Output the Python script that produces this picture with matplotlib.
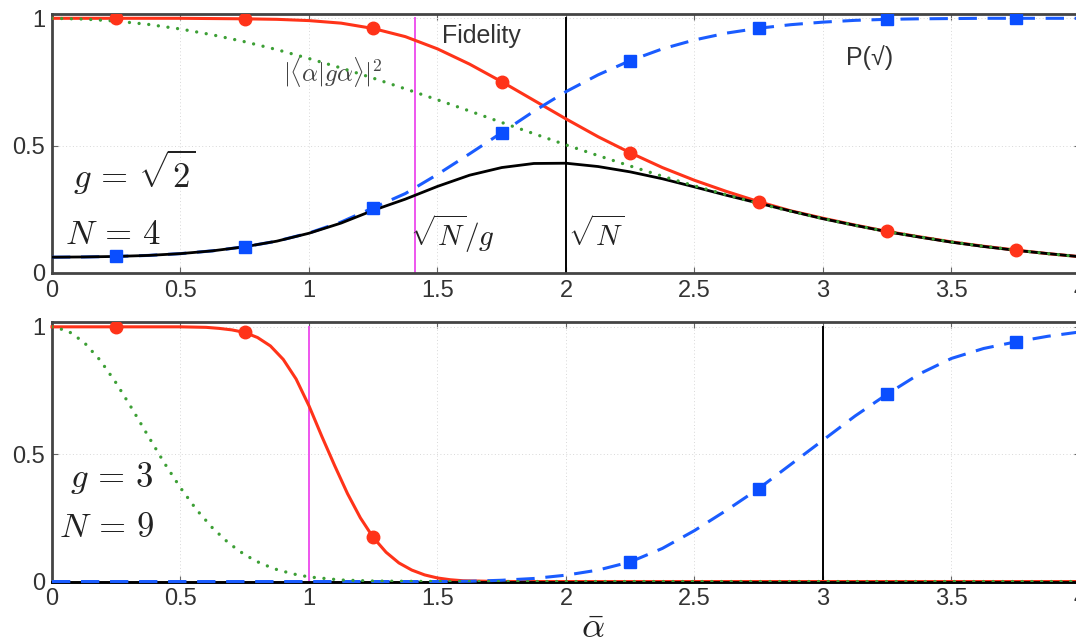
import numpy as np
import matplotlib
matplotlib.use("Agg")
import matplotlib.pyplot as plt

plt.rcParams['font.family'] = ['Liberation Sans', 'DejaVu Sans']
plt.rcParams['mathtext.fontset'] = 'cm'

# ---------------- data: top panel (g = sqrt2, N = 4) ----------------
a_top = [0, 0.125, 0.25, 0.375, 0.5, 0.625, 0.75, 0.875, 1.0, 1.125, 1.25, 1.375,
         1.5, 1.625, 1.75, 1.875, 2.0, 2.125, 2.25, 2.375, 2.5, 2.625, 2.75, 2.875,
         3.0, 3.125, 3.25, 3.375, 3.5, 3.625, 3.75, 3.875, 4.0]
fid_top = [1.000, 1.000, 1.000, 1.000, 1.000, 0.999, 0.998, 0.996, 0.991, 0.981, 0.960,
           0.928, 0.880, 0.820, 0.751, 0.678, 0.605, 0.535, 0.472, 0.414, 0.364, 0.320,
           0.280, 0.244, 0.215, 0.188, 0.163, 0.142, 0.122, 0.105, 0.090, 0.076, 0.064]
psucc_top = [0.062, 0.063, 0.065, 0.069, 0.076, 0.087, 0.103, 0.125, 0.157, 0.200, 0.256,
             0.312, 0.387, 0.468, 0.551, 0.635, 0.712, 0.778, 0.834, 0.880, 0.915, 0.942,
             0.961, 0.975, 0.985, 0.992, 0.996, 0.998, 0.999, 1.000, 1.000, 1.000, 1.000]
prod_top = [0.062, 0.063, 0.065, 0.069, 0.076, 0.087, 0.103, 0.125, 0.156, 0.196, 0.246,
            0.290, 0.340, 0.384, 0.414, 0.430, 0.431, 0.418, 0.397, 0.370, 0.338, 0.305,
            0.274, 0.243, 0.213, 0.187, 0.162, 0.141, 0.121, 0.104, 0.089, 0.076, 0.064]
overlap_top = [1.000, 0.997, 0.989, 0.976, 0.958, 0.935, 0.908, 0.877, 0.842, 0.805, 0.765,
               0.723, 0.680, 0.636, 0.591, 0.547, 0.503, 0.461, 0.420, 0.380, 0.342, 0.307,
               0.273, 0.242, 0.214, 0.187, 0.163, 0.142, 0.122, 0.105, 0.090, 0.076, 0.064]
vlines_top = [1.4142, 2.0]   # sqrt(N)/g, sqrt(N)

# ---------------- data: bottom panel (g = 3, N = 9) ----------------
a_fid_bot = [0, 0.25, 0.5, 0.6, 0.65, 0.7, 0.75, 0.8, 0.85, 0.9, 0.95, 1.0, 1.05, 1.1,
             1.15, 1.2, 1.25, 1.3, 1.35, 1.4, 1.45, 1.5, 1.55, 1.6, 1.7, 1.8, 4.0]
fid_bot = [1.0, 1.0, 1.0, 0.998, 0.994, 0.988, 0.978, 0.958, 0.925, 0.872, 0.795, 0.690,
           0.570, 0.455, 0.345, 0.250, 0.173, 0.115, 0.073, 0.045, 0.026, 0.014, 0.007,
           0.003, 0.001, 0.0, 0.0]
a_ov_bot = [0, 0.0625, 0.125, 0.1875, 0.25, 0.3125, 0.375, 0.4375, 0.5, 0.5625, 0.625,
            0.6875, 0.75, 0.8125, 0.875, 0.9375, 1.0, 1.125, 1.25, 1.5, 4.0]
overlap_bot = [1.0, 0.984, 0.939, 0.869, 0.779, 0.677, 0.570, 0.465, 0.368, 0.282, 0.210,
               0.151, 0.105, 0.071, 0.047, 0.030, 0.018, 0.006, 0.002, 0.0, 0.0]
a_p_bot = [0, 1.5, 1.625, 1.75, 1.875, 2.0, 2.125, 2.25, 2.375, 2.5, 2.625, 2.75, 2.875,
           3.0, 3.125, 3.25, 3.375, 3.5, 3.625, 3.75, 3.875, 4.0]
psucc_bot = [0.0, 0.0, 0.001, 0.005, 0.012, 0.025, 0.045, 0.077, 0.130, 0.200, 0.280, 0.365,
             0.460, 0.555, 0.650, 0.736, 0.815, 0.876, 0.915, 0.941, 0.963, 0.980]
a_prod_bot = [0, 4.0]
prod_bot = [0.0, 0.0]
vlines_bot = [1.0, 3.0]

xticks = [0, 0.5, 1, 1.5, 2, 2.5, 3, 3.5, 4]
xticklabels = ['0', '0.5', '1', '1.5', '2', '2.5', '3', '3.5', '4']
yticks = [0, 0.5, 1]
yticklabels = ['0', '0.5', '1']

RED = '#ff3319'
BLUE = '#1a5cff'
BLUE_M = '#0a4eff'
GREEN = '#3c9f35'
MAGENTA = '#ee55ee'
TXT = '#333333'

fig = plt.figure(figsize=(10.76, 6.44), dpi=100)
ax1 = fig.add_axes([0.0483, 0.5761, 0.9554, 0.4022])
ax2 = fig.add_axes([0.0483, 0.0970, 0.9554, 0.4034])


def style(ax, ytop):
    ax.set_xlim(0, 4)
    ax.set_ylim(0, ytop)
    ax.set_xticks(xticks)
    ax.set_xticklabels(xticklabels)
    ax.set_yticks(yticks)
    ax.set_yticklabels(yticklabels)
    ax.tick_params(direction='in', length=4, width=0.8, colors='#666666',
                   labelcolor=TXT, labelsize=17, top=True, right=True, pad=5)
    ax.grid(True, linestyle=(0, (1, 2.5)), color='#d8d8d8', linewidth=0.7)
    ax.set_axisbelow(True)
    for s in ['left', 'top', 'bottom', 'right']:
        ax.spines[s].set_color('#444444')
        ax.spines[s].set_linewidth(2.0)


style(ax1, 1.017)
style(ax2, 1.02)

ls_dash = (0, (6, 3.5))
ls_dot = (0, (0.01, 2.9))

# ---- top panel ----
ax1.plot(a_top, fid_top, color=RED, lw=2.2, zorder=3)
ax1.plot(a_top, psucc_top, color=BLUE, lw=2.2, linestyle=ls_dash, zorder=3)
ax1.plot(a_top, prod_top, color='black', lw=2.0, zorder=4)
ax1.plot(a_top, overlap_top, color=GREEN, lw=2.4, linestyle=ls_dot,
         dash_capstyle='round', zorder=5)
ax1.plot(a_top, fid_top, linestyle='none', marker='o', ms=9, color=RED,
         markevery=slice(2, None, 4), zorder=6)
ax1.plot(a_top, psucc_top, linestyle='none', marker='s', ms=9, color=BLUE_M,
         markevery=slice(2, None, 4), zorder=6)
ax1.plot([vlines_top[0]] * 2, [0, 1], color=MAGENTA, lw=1.4, zorder=2.5)
ax1.plot([vlines_top[1]] * 2, [0, 1], color='black', lw=1.4, zorder=2.5)

ax1.text(1.672, 0.931, 'Fidelity', fontsize=18, color=TXT, ha='center', va='center')
ax1.text(3.183, 0.846, 'P(√)', fontsize=18, color=TXT, ha='center', va='center',
         family=['Liberation Sans', 'DejaVu Sans'])
ax1.text(1.091, 0.787, r'$|\langle\alpha|g\alpha\rangle|^2$', fontsize=18,
         color='#444444', ha='center', va='center')
ax1.text(0.319, 0.395, r'$g\,=\,\sqrt{2}$', fontsize=25, color='#222222',
         ha='center', va='center')
ax1.text(0.235, 0.153, r'$N\,=\,4$', fontsize=25, color='#222222',
         ha='center', va='center')
ax1.text(1.558, 0.153, r'$\sqrt{N}/g$', fontsize=21, color='#222222',
         ha='center', va='center')
ax1.text(2.119, 0.153, r'$\sqrt{N}$', fontsize=21, color='#222222',
         ha='center', va='center')

# ---- bottom panel ----
ax2.plot(a_fid_bot, fid_bot, color=RED, lw=2.2, zorder=3, clip_on=False)
ax2.plot(a_prod_bot, prod_bot, color='black', lw=2.0, zorder=3.5, clip_on=False)
ax2.plot(a_p_bot, psucc_bot, color=BLUE, lw=2.2, linestyle=ls_dash, zorder=4,
         clip_on=False)
ax2.plot(a_ov_bot, overlap_bot, color=GREEN, lw=2.4, linestyle=ls_dot,
         dash_capstyle='round', zorder=5)
ax2.plot(a_fid_bot, fid_bot, linestyle='none', marker='o', ms=9, color=RED,
         markevery=[1, 6, 16], zorder=6)
ax2.plot(a_p_bot, psucc_bot, linestyle='none', marker='s', ms=9, color=BLUE_M,
         markevery=[7, 11, 15, 19], zorder=6)
ax2.plot([vlines_bot[0]] * 2, [0, 1], color=MAGENTA, lw=1.4, zorder=2.5)
ax2.plot([vlines_bot[1]] * 2, [0, 1], color='black', lw=1.4, zorder=2.5)

ax2.text(0.235, 0.408, r'$g\,=\,3$', fontsize=25, color='#222222',
         ha='center', va='center')
ax2.text(0.214, 0.211, r'$N\,=\,9$', fontsize=25, color='#222222',
         ha='center', va='center')

fig.text(0.551, 0.024, r'$\bar{\alpha}$', fontsize=26, color='#222222',
         ha='center', va='center')

fig.savefig('out.png', dpi=100)
